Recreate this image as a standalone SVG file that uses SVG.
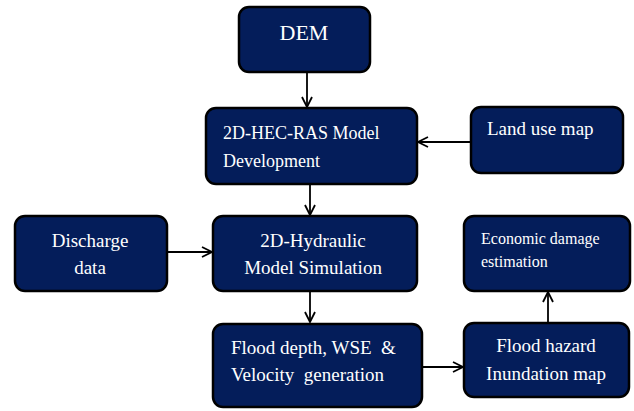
<svg xmlns="http://www.w3.org/2000/svg" width="634" height="411" viewBox="0 0 634 411">
<defs>
<style>
.box{fill:#041d5a;stroke:#000;stroke-width:2.5}
.t{fill:#fff;font-family:"Liberation Serif","Times New Roman",serif;font-size:19px}
.c{text-anchor:middle}
.con{stroke:#000;stroke-width:1.8;fill:none;marker-end:url(#ah)}
</style>
<marker id="ah" viewBox="0 0 12 12" refX="11" refY="6" markerWidth="12" markerHeight="12" markerUnits="userSpaceOnUse" orient="auto">
<path d="M1,1 L11,6 L1,11" fill="none" stroke="#000" stroke-width="1.8"/>
</marker>
</defs>
<rect width="634" height="411" fill="#fff"/>
<g id="connectors">
<line class="con" x1="307" y1="72" x2="307" y2="107"/>
<line class="con" x1="471" y1="142" x2="418" y2="142"/>
<line class="con" x1="310" y1="184" x2="310" y2="215"/>
<line class="con" x1="167" y1="252" x2="212" y2="252"/>
<line class="con" x1="310" y1="291" x2="310" y2="322"/>
<line class="con" x1="422" y1="367" x2="463" y2="367"/>
<line class="con" x1="548" y1="323" x2="548" y2="292"/>
</g>
<g id="dem">
<rect class="box" x="239" y="7" width="131" height="65" rx="10"/>
<text class="t c" x="304" y="40" style="font-size:22px">DEM</text>
</g>
<g id="hecras">
<rect class="box" x="206" y="108" width="211" height="76" rx="10"/>
<text class="t" x="223" y="139" style="font-size:18px">2D-HEC-RAS Model</text>
<text class="t" x="223" y="167" style="font-size:18px">Development</text>
</g>
<g id="landuse">
<rect class="box" x="471" y="107" width="152" height="66" rx="10"/>
<text class="t" x="487" y="135">Land use map</text>
</g>
<g id="discharge">
<rect class="box" x="15" y="216" width="152" height="75" rx="10"/>
<text class="t c" x="90" y="247">Discharge</text>
<text class="t c" x="90" y="274">data</text>
</g>
<g id="hydraulic">
<rect class="box" x="213" y="216" width="204" height="75" rx="10"/>
<text class="t c" x="313" y="247">2D-Hydraulic</text>
<text class="t c" x="313" y="274">Model Simulation</text>
</g>
<g id="economic">
<rect class="box" x="464" y="216" width="166" height="75" rx="10"/>
<text class="t" x="481" y="244" style="font-size:16px">Economic damage</text>
<text class="t" x="481" y="267" style="font-size:16px">estimation</text>
</g>
<g id="flooddepth">
<rect class="box" x="213" y="324" width="209" height="83" rx="10"/>
<text class="t" x="231" y="354" xml:space="preserve">Flood depth, WSE  &amp;</text>
<text class="t" x="231" y="381" xml:space="preserve">Velocity  generation</text>
</g>
<g id="floodhazard">
<rect class="box" x="464" y="323" width="165" height="74" rx="10"/>
<text class="t c" x="546" y="352">Flood hazard</text>
<text class="t c" x="546" y="380">Inundation map</text>
</g>
</svg>
